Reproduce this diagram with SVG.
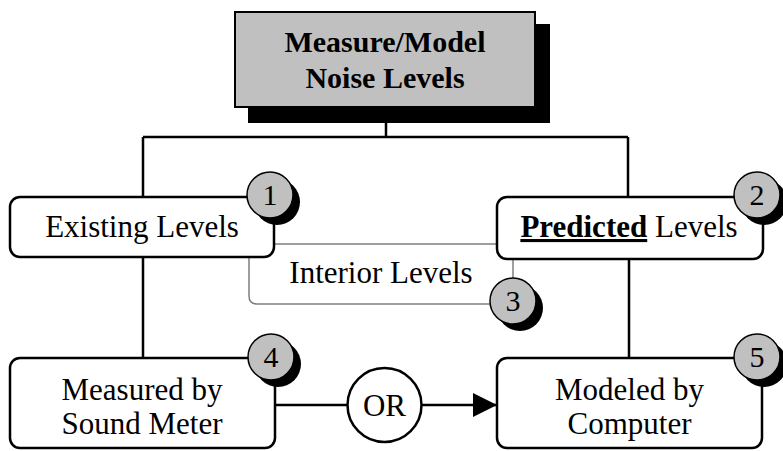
<svg xmlns="http://www.w3.org/2000/svg" width="783" height="451" viewBox="0 0 783 451">
  <defs>
    <style>
      .box { fill: #ffffff; stroke: #000000; stroke-width: 2.5; }
      .wire { fill: none; stroke: #000000; stroke-width: 2.5; }
      .thin { fill: none; stroke: #7f7f7f; stroke-width: 1.5; }
      text { font-family: 'Liberation Serif', 'Times New Roman', Tinos, 'DejaVu Serif', serif; fill: #000000; text-anchor: middle; }
      .txt { font-size: 31px; }
      .title { font-size: 30px; font-weight: bold; }
      .badge { fill: #c0c0c0; stroke: #000000; stroke-width: 1.5; }
      .badge-shadow { fill: #000000; }
      .num { font-size: 30px; }
    </style>
    <marker id="arrow" viewBox="0 0 24 24" refX="24" refY="12" markerWidth="24" markerHeight="24" markerUnits="userSpaceOnUse" orient="auto">
      <path d="M0,0 L24,12 L0,24 Z" fill="#000000"/>
    </marker>
  </defs>

  <!-- connectors -->
  <g id="connectors">
    <path class="wire" d="M386,122 V137 M143,137 H628 M143,137 V197 M628,137 V197"/>
    <path class="wire" d="M143,257 V358 M629,259 V358"/>
    <path class="wire" d="M275,405 H347"/>
    <path class="wire" d="M422,405 H497" marker-end="url(#arrow)"/>
    <!-- interior levels bracket -->
    <path class="thin" d="M274,244 H497"/>
    <path class="thin" d="M249,257 V296 Q249,304 257,304 H492"/>
    <path class="thin" d="M513,259 V278"/>
  </g>

  <!-- top node -->
  <g id="node-title">
    <rect x="248" y="24" width="302" height="99" fill="#000000"/>
    <rect x="235" y="12" width="300" height="95" fill="#c0c0c0" stroke="#000000" stroke-width="2"/>
    <text class="title" x="385" y="52">Measure/Model</text>
    <text class="title" x="385" y="88">Noise Levels</text>
  </g>

  <g id="node-existing">
    <rect class="box" x="10" y="197" width="264" height="60" rx="10"/>
    <text class="txt" x="142" y="237">Existing Levels</text>
  </g>

  <g id="node-predicted">
    <rect class="box" x="497" y="197" width="266" height="62" rx="10"/>
    <text class="txt" x="629" y="237"><tspan font-weight="bold" text-decoration="underline">Predicted</tspan> Levels</text>
  </g>

  <g id="node-interior">
    <text class="txt" x="381" y="283">Interior Levels</text>
  </g>

  <g id="node-measured">
    <rect class="box" x="10" y="358" width="265" height="90" rx="10"/>
    <text class="txt" x="142" y="400">Measured by</text>
    <text class="txt" x="142" y="434">Sound Meter</text>
  </g>

  <g id="node-or">
    <circle cx="384.5" cy="405" r="37" class="box"/>
    <text class="txt" x="384.5" y="416">OR</text>
  </g>

  <g id="node-modeled">
    <rect class="box" x="497" y="358" width="265" height="90" rx="10"/>
    <text class="txt" x="629.5" y="400">Modeled by</text>
    <text class="txt" x="629.5" y="434">Computer</text>
  </g>

  <!-- numbered badges -->
  <g id="badge-1">
    <circle class="badge-shadow" cx="277" cy="202" r="23"/>
    <circle class="badge" cx="270" cy="195" r="23"/>
    <text class="num" x="270" y="205">1</text>
  </g>
  <g id="badge-2">
    <circle class="badge-shadow" cx="764" cy="202" r="23"/>
    <circle class="badge" cx="757" cy="195" r="23"/>
    <text class="num" x="757" y="205">2</text>
  </g>
  <g id="badge-3">
    <circle class="badge-shadow" cx="520" cy="308" r="23"/>
    <circle class="badge" cx="513" cy="301" r="23"/>
    <text class="num" x="513" y="311">3</text>
  </g>
  <g id="badge-4">
    <circle class="badge-shadow" cx="278" cy="364" r="23"/>
    <circle class="badge" cx="271" cy="357" r="23"/>
    <text class="num" x="271" y="367">4</text>
  </g>
  <g id="badge-5">
    <circle class="badge-shadow" cx="764" cy="364" r="23"/>
    <circle class="badge" cx="757" cy="357" r="23"/>
    <text class="num" x="757" y="367">5</text>
  </g>
</svg>
